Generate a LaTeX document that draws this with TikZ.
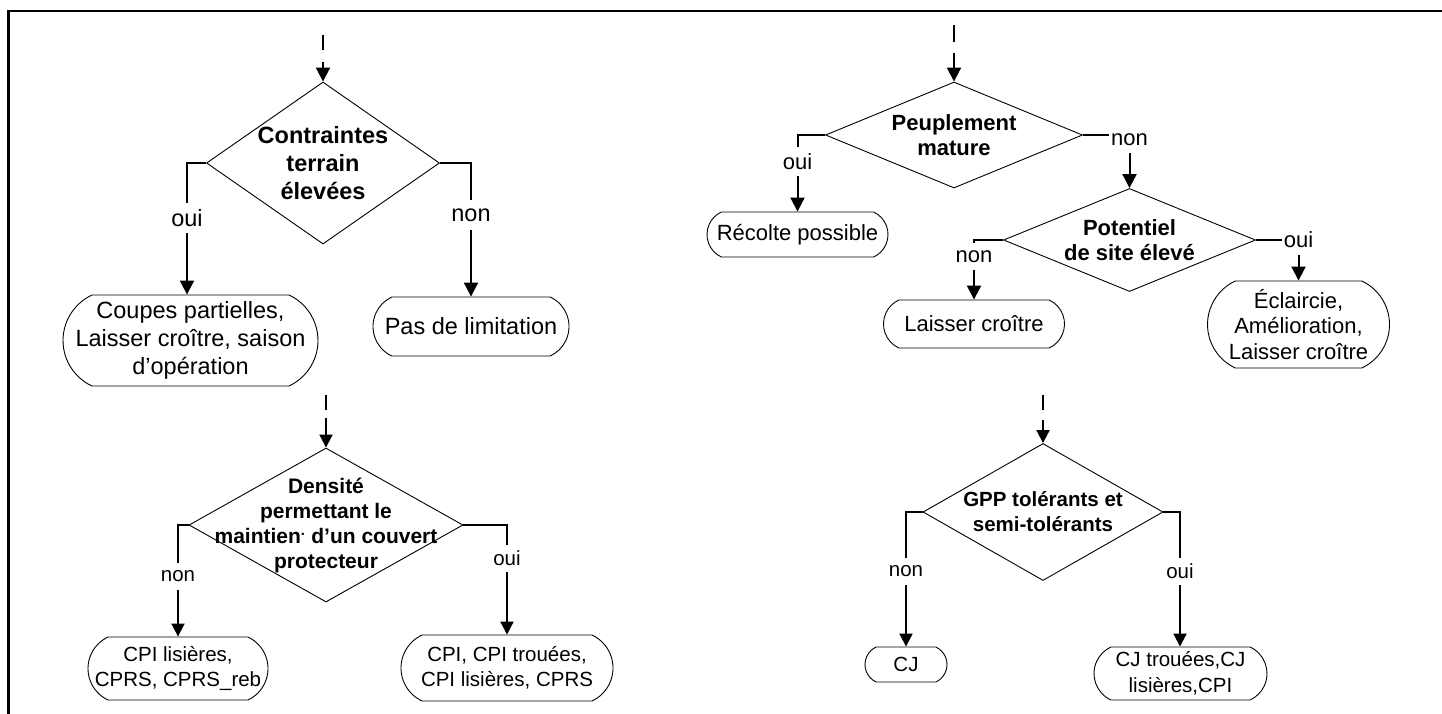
\documentclass[tikz,border=0pt]{standalone}
\usepackage{fontspec}
\setmainfont{Liberation Sans}
\usetikzlibrary{shapes.geometric,shapes.misc,arrows.meta}
\tikzset{
  frameline/.style={line width=2.5pt},
  conn/.style={line width=2pt},
  arrA/.style={conn,-{Triangle[width=14pt,length=14pt]}},
  arrB/.style={conn,-{Triangle[width=13pt,length=13pt]}},
  dia/.style={diamond,draw,line width=0.9pt,inner sep=0pt},
  box/.style={rounded rectangle,rounded rectangle arc length=130,draw,line width=0.9pt,inner sep=0pt},
  tA/.style={font=\fontsize{23.5}{28}\selectfont,align=center,inner sep=0pt},
  tB/.style={font=\fontsize{22}{25.5}\selectfont,align=center,inner sep=0pt},
  tC/.style={font=\fontsize{20.5}{25}\selectfont,align=center,inner sep=0pt},
  tD/.style={font=\fontsize{20.5}{26}\selectfont,align=center,inner sep=0pt},
  hA/.style={font=\bfseries\fontsize{23.5}{28}\selectfont,align=center,inner sep=0pt},
  hB/.style={font=\bfseries\fontsize{22}{25}\selectfont,align=center,inner sep=0pt},
  hC/.style={font=\bfseries\fontsize{21}{25}\selectfont,align=center,inner sep=0pt},
  hD/.style={font=\bfseries\fontsize{20.5}{25}\selectfont,align=center,inner sep=0pt},
}
\begin{document}
\begin{tikzpicture}[x=1pt,y=-1pt]
\useasboundingbox (0,0) rectangle (1442,713);
\draw[frameline] (8.5,715) -- (8.5,11) -- (1444,11);

% ---------- Panel 1 ----------
\node[dia,minimum width=233pt,minimum height=162pt,
  label={[hA]center:{Contraintes\\terrain\\élevées}}] (d1) at (323,163) {};
\coordinate (e1a) at (323,35);
\coordinate (e1b) at (323,50);
\coordinate (e1c) at (323,62);
\draw[conn] (e1a) -- (e1b);
\draw[arrA] (e1c) -- (d1.north);
\node[box,minimum width=255pt,minimum height=91pt,
  label={[tA]center:{Coupes partielles,\\Laisser croître, saison\\d’opération}}] (b1) at (190.5,340.5) {};
\node[box,minimum width=196pt,minimum height=59pt,
  label={[tA]center:{Pas de limitation}}] (b2) at (471,326.5) {};
\node[tA,minimum height=30pt] (l1o) at (187,218) {oui};
\node[tA,minimum height=30pt] (l1n) at (471,215) {non};
\draw[conn] (d1.west) -| (l1o.north);
\draw[arrA] (l1o.south) -- (l1o.south |- b1.north);
\draw[conn] (d1.east) -| (l1n.north);
\draw[arrA] (l1n.south) -- (l1n.south |- b2.north);

% ---------- Panel 2 ----------
\node[dia,minimum width=257pt,minimum height=106pt,
  label={[hB]center:{Peuplement\\mature}}] (d2) at (954,135) {};
\coordinate (e2a) at (954,25);
\coordinate (e2b) at (954,42);
\coordinate (e2c) at (954,53);
\draw[conn] (e2a) -- (e2b);
\draw[arrA] (e2c) -- (d2.north);
\node[dia,minimum width=252pt,minimum height=103pt,
  label={[hB]center:{Potentiel\\de site élevé}}] (d3) at (1129.5,240) {};
\node[box,minimum width=181pt,minimum height=45pt,
  label={[tB]center:{Récolte possible}}] (b3) at (797.5,234.5) {};
\node[box,minimum width=181pt,minimum height=48pt,
  label={[tB]center:{Laisser croître}}] (b4) at (974,324) {};
\node[box,minimum width=182pt,minimum height=87pt,
  label={[tB]center:{Éclaircie,\\Amélioration,\\Laisser croître}}] (b5) at (1298.5,324.5) {};
\node[tB,minimum height=29pt] (l2o) at (797.5,161.5) {oui};
\draw[conn] (d2.west) -| (l2o.north);
\draw[arrA] (l2o.south) -- (l2o.south |- b3.north);
\node[tB,minimum height=26pt,inner xsep=2pt] (l2n) at (1129.5,140) {non};
\draw[conn] (d2.east) -- (d2.east -| l2n.west);
\draw[arrA] (l2n.south) -- (d3.north);
\node[tB,minimum height=27pt] (l3n) at (974,256.5) {non};
\draw[conn] (d3.west) -| (l3n.north);
\draw[arrA] (l3n.south) -- (l3n.south |- b4.north);
\node[tB,minimum height=30pt,inner xsep=2pt] (l3o) at (1298.5,240) {oui};
\draw[conn] (d3.east) -- (d3.east -| l3o.west);
\draw[arrA] (l3o.south) -- (l3o.south |- b5.north);

% ---------- Panel 3 ----------
\node[dia,minimum width=274pt,minimum height=154pt,
  label={[hC]center:{Densité\\permettant le\\maintien\textsuperscript{.} d’un couvert\\protecteur}}] (d4) at (326,525) {};
\coordinate (e3a) at (326,395);
\coordinate (e3b) at (326,410);
\coordinate (e3c) at (326,418);
\draw[conn] (e3a) -- (e3b);
\draw[arrB] (e3c) -- (d4.north);
\node[box,minimum width=180pt,minimum height=63pt,
  label={[tC]center:{CPI lisières,\\CPRS, CPRS\_reb}}] (b6) at (178,668.5) {};
\node[box,minimum width=212pt,minimum height=66pt,
  label={[tC]center:{CPI, CPI trouées,\\CPI lisières, CPRS}}] (b7) at (507,668) {};
\node[tC,minimum height=27pt] (l4n) at (178,576.5) {non};
\node[tC,minimum height=27pt] (l4o) at (507,558.5) {oui};
\draw[conn] (d4.west) -| (l4n.north);
\draw[arrB] (l4n.south) -- (l4n.south |- b6.north);
\draw[conn] (d4.east) -| (l4o.north);
\draw[arrB] (l4o.south) -- (l4o.south |- b7.north);

% ---------- Panel 4 ----------
\node[dia,minimum width=240pt,minimum height=137pt,
  label={[hD]center:{GPP tolérants et\\semi-tolérants}}] (d5) at (1043,512) {};
\coordinate (e4a) at (1043,395);
\coordinate (e4b) at (1043,410);
\coordinate (e4c) at (1043,420);
\draw[conn] (e4a) -- (e4b);
\draw[arrB] (e4c) -- (d5.north);
\node[box,minimum width=82pt,minimum height=35pt,
  label={[tD]center:{CJ}}] (b8) at (906,664.5) {};
\node[box,minimum width=173pt,minimum height=53pt,
  label={[tD]center:{CJ trouées,CJ\\lisières,CPI}}] (b9) at (1180.5,673.5) {};
\node[tD,minimum height=27pt] (l5n) at (906,571.5) {non};
\node[tD,minimum height=27pt] (l5o) at (1180,571.5) {oui};
\draw[conn] (d5.west) -| (l5n.north);
\draw[arrB] (l5n.south) -- (l5n.south |- b8.north);
\draw[conn] (d5.east) -| (l5o.north);
\draw[arrB] (l5o.south) -- (l5o.south |- b9.north);
\end{tikzpicture}
\end{document}
